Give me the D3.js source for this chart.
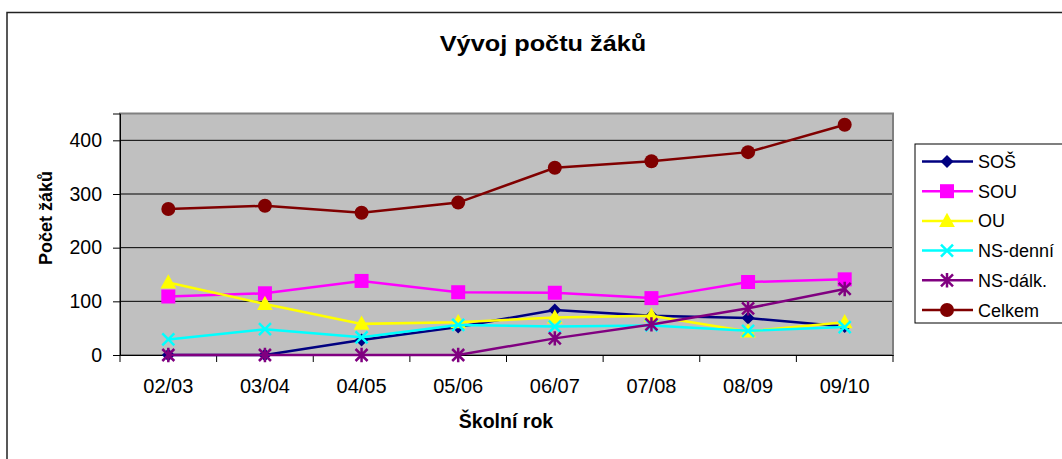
<!DOCTYPE html>
<html><head><meta charset="utf-8">
<script src="https://cdn.jsdelivr.net/npm/d3@7"></script>
<style>body{margin:0;background:#fff;}svg{display:block;font-family:Arial,"Liberation Sans",sans-serif;}</style>
</head><body>
<svg id="c" width="1062" height="459"></svg>
<script>
const categories = ["02/03","03/04","04/05","05/06","06/07","07/08","08/09","09/10"];
const seriesNames = ["SOŠ","SOU","OU","NS-denní","NS-dálk.","Celkem"];
const sos      = [0, 0, 28, 52, 84, 73, 69, 53];
const sou      = [109, 115, 138, 117, 116, 106, 136, 141];
const ou       = [135, 95, 58, 61, 70, 73, 44, 61];
const nsDenni  = [29, 48, 33, 56, 53, 55, 45, 52];
const nsDalk   = [0, 0, 0, 0, 31, 57, 87, 123];
const celkem   = [272, 278, 265, 284, 349, 361, 378, 429];
const yTicks = [0, 100, 200, 300, 400];

const colors = ["#000080","#FF00FF","#FFFF00","#00FFFF","#800080","#800000"];
const markers = ["diamond","square","triangle","x","star","circle"];
const data = [sos, sou, ou, nsDenni, nsDalk, celkem];
const FF = "Arial, 'Liberation Sans', sans-serif";

const svg = d3.select("#c");
svg.append("rect").attr("x",7).attr("y",12.5).attr("width",1070).attr("height",460)
  .attr("fill","#fff").attr("stroke","#222").attr("stroke-width",1.5);

const L=120, R=893, T=113.5, B=355;
const x = d3.scaleBand().domain(categories).range([L,R]);
const y = d3.scaleLinear().domain([0,450]).range([B,T]);

svg.append("rect").attr("x",L).attr("y",T).attr("width",R-L).attr("height",B-T)
  .attr("fill","#C0C0C0");
svg.append("g").selectAll("line").data(yTicks.filter(d=>d>0)).join("line")
  .attr("x1",L).attr("x2",R).attr("y1",d=>y(d)).attr("y2",d=>y(d))
  .attr("stroke","#000").attr("stroke-width",1);
svg.append("rect").attr("x",L).attr("y",T).attr("width",R-L).attr("height",B-T)
  .attr("fill","none").attr("stroke","#808080").attr("stroke-width",2);

const ya = svg.append("g").attr("transform",`translate(${L},0)`)
  .call(d3.axisLeft(y).tickValues(yTicks).tickSize(7).tickPadding(11));
ya.select(".domain").attr("stroke","#000");
ya.selectAll(".tick line").attr("stroke","#000");
ya.selectAll("text").attr("font-size",19.5).attr("fill","#000").attr("font-family",FF);

const xa = svg.append("g").attr("transform",`translate(0,${B})`)
  .call(d3.axisBottom(x).tickSize(0).tickPadding(24));
xa.select(".domain").attr("stroke","#000");
xa.selectAll("text").attr("font-size",20).attr("fill","#000").attr("font-family",FF);
const bounds = categories.map(c=>x(c)).concat([R]);
svg.append("g").selectAll("line").data(bounds).join("line")
  .attr("x1",d=>d).attr("x2",d=>d).attr("y1",B).attr("y2",B+7).attr("stroke","#000");

function markerPath(type, s){
  switch(type){
    case "diamond": return `M0,${-s}L${s},0L0,${s}L${-s},0Z`;
    case "square": return `M${-s},${-s}H${s}V${s}H${-s}Z`;
    case "triangle": return `M0,${-s*1.1}L${s*1.05},${s*0.8}L${-s*1.05},${s*0.8}Z`;
    case "x": return `M${-s},${-s}L${s},${s}M${-s},${s}L${s},${-s}`;
    case "star": return `M${-s},${-s}L${s},${s}M${-s},${s}L${s},${-s}M0,${-s*1.2}V${s*1.2}`;
    case "circle": return d3.arc()({innerRadius:0,outerRadius:s,startAngle:0,endAngle:2*Math.PI});
  }
}
const msize = {diamond:6.5,square:7,triangle:7.5,x:6,star:6,circle:7};
function drawMarker(g, type, color, cx, cy){
  const p = g.append("path").attr("d",markerPath(type,msize[type])).attr("transform",`translate(${cx},${cy})`);
  if(type==="x"||type==="star") p.attr("fill","none").attr("stroke",color).attr("stroke-width",2.5);
  else p.attr("fill",color).attr("stroke","none");
}

const line = d3.line().x((d,i)=>x(categories[i])+x.bandwidth()/2).y(d=>y(d));
data.forEach((vals,k)=>{
  const g = svg.append("g");
  g.append("path").datum(vals).attr("d",line).attr("fill","none")
    .attr("stroke",colors[k]).attr("stroke-width",2.5);
  vals.forEach((v,i)=>drawMarker(g,markers[k],colors[k],x(categories[i])+x.bandwidth()/2,y(v)));
});

svg.append("text").attr("transform","translate(543,51) scale(1.15,1)").attr("text-anchor","middle")
  .attr("font-size",22).attr("font-weight","bold").text("Vývoj počtu žáků");
svg.append("text").attr("x",506).attr("y",428).attr("text-anchor","middle")
  .attr("font-size",19.5).attr("font-weight","bold").text("Školní rok");
svg.append("text").attr("transform","translate(52,218) rotate(-90)").attr("text-anchor","middle")
  .attr("font-size",18).attr("font-weight","bold").text("Počet žáků");

const lg = svg.append("g");
lg.append("rect").attr("x",915).attr("y",144).attr("width",160).attr("height",179)
  .attr("fill","#fff").attr("stroke","#000").attr("stroke-width",1);
seriesNames.forEach((n,k)=>{
  const yy = 161.5 + k*29.7;
  lg.append("line").attr("x1",922).attr("x2",973).attr("y1",yy).attr("y2",yy)
    .attr("stroke",colors[k]).attr("stroke-width",2.5);
  drawMarker(lg,markers[k],colors[k],947,yy);
  lg.append("text").attr("x",978).attr("y",yy+6.5).attr("font-size",18).text(n);
});
</script>
</body></html>
